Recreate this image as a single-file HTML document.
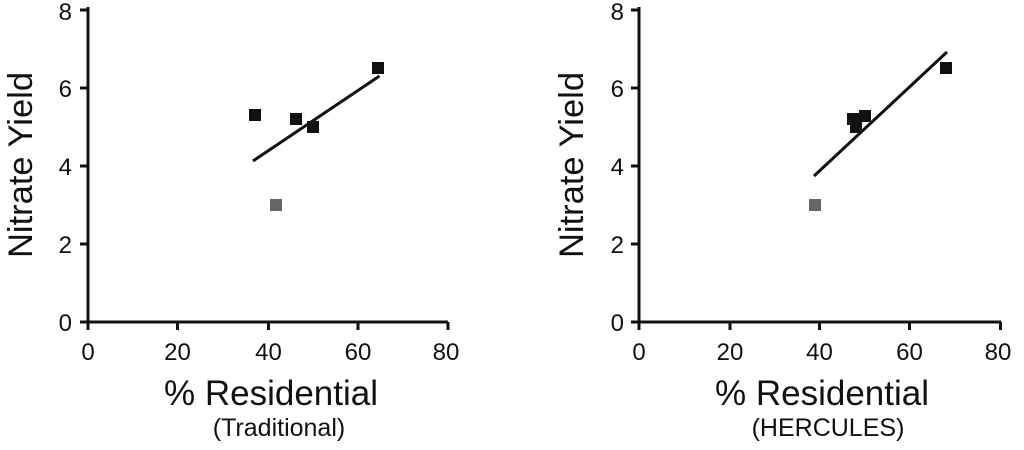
<!DOCTYPE html>
<html><head><style>body{margin:0;background:#fff}svg{display:block}</style></head><body>
<svg width="1024" height="450" xmlns="http://www.w3.org/2000/svg" font-family="Liberation Sans, Arial, sans-serif" fill="#111">
<!-- Left chart -->
<g stroke="#111" stroke-width="3" fill="none">
<path d="M88 7 V322 H448"/>
<path d="M80 10H88M80 88H88M80 166H88M80 244H88M80 322H88"/>
<path d="M88 322V330M177.5 322V330M268.5 322V330M358 322V330M448 322V330"/>
<path d="M253 161 L379.5 76"/>
</g>
<g font-size="24" text-anchor="end">
<text x="72" y="20">8</text><text x="72" y="97">6</text><text x="72" y="175">4</text><text x="72" y="253">2</text><text x="72" y="331">0</text>
</g>
<g font-size="24" text-anchor="middle">
<text x="88" y="360">0</text><text x="177.5" y="360">20</text><text x="268.5" y="360">40</text><text x="358" y="360">60</text><text x="446" y="360">80</text>
</g>
<text transform="translate(32,165) rotate(-90)" font-size="34.5" text-anchor="middle">Nitrate Yield</text>
<text x="271" y="405" font-size="35" text-anchor="middle">% Residential</text>
<text x="279" y="436" font-size="25" text-anchor="middle">(Traditional)</text>
<rect x="249" y="109" width="12" height="12"/>
<rect x="290" y="113" width="12" height="12"/>
<rect x="307" y="121" width="12" height="12"/>
<rect x="372" y="62" width="12" height="12"/>
<rect x="270" y="199" width="12" height="12" fill="#666"/>

<!-- Right chart -->
<g stroke="#111" stroke-width="3" fill="none">
<path d="M639 7 V322 H1001"/>
<path d="M631 10H639M631 88H639M631 166H639M631 244H639M631 322H639"/>
<path d="M639 322V330M730 322V330M819.5 322V330M909.5 322V330M1000.5 322V330"/>
<path d="M814 176 L947 52"/>
</g>
<g font-size="24" text-anchor="end">
<text x="624" y="20">8</text><text x="624" y="97">6</text><text x="624" y="175">4</text><text x="624" y="253">2</text><text x="624" y="331">0</text>
</g>
<g font-size="24" text-anchor="middle">
<text x="639" y="360">0</text><text x="730" y="360">20</text><text x="819.5" y="360">40</text><text x="909.5" y="360">60</text><text x="998" y="360">80</text>
</g>
<text transform="translate(583,165) rotate(-90)" font-size="34.5" text-anchor="middle">Nitrate Yield</text>
<text x="822" y="405" font-size="35" text-anchor="middle">% Residential</text>
<text x="828" y="436" font-size="25" text-anchor="middle">(HERCULES)</text>
<rect x="847" y="113" width="12" height="12"/>
<rect x="850" y="121" width="12" height="12"/>
<rect x="859" y="110" width="12" height="12"/>
<rect x="940" y="62" width="12" height="12"/>
<rect x="809" y="199" width="12" height="12" fill="#666"/>
</svg>
</body></html>
